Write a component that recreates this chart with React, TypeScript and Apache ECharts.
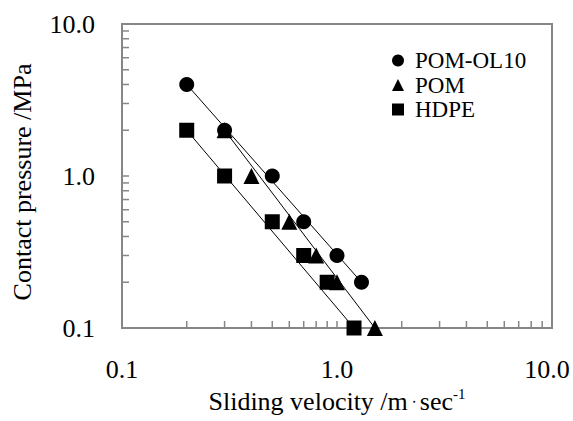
import React, { useEffect, useRef } from "react";
import * as echarts from "echarts";

const seriesNames = ["POM-OL10", "POM", "HDPE"];
const velocityOL10 = [0.2, 0.3, 0.5, 0.7, 1.0, 1.3];
const pressureOL10 = [4, 2, 1, 0.5, 0.3, 0.2];
const velocityPOM = [0.3, 0.4, 0.6, 0.8, 1.0, 1.5];
const pressurePOM = [2, 1, 0.5, 0.3, 0.2, 0.1];
const velocityHDPE = [0.2, 0.3, 0.5, 0.7, 0.9, 1.2];
const pressureHDPE = [2, 1, 0.5, 0.3, 0.2, 0.1];
// trend line end points
const fitOL10 = [[0.2, 4.0], [1.3, 0.2]];
const fitPOM = [[0.3, 2.0], [1.5, 0.1]];
const fitHDPE = [[0.2, 2.0], [1.2, 0.1]];
const tickLabels: Record<string, string> = { "0.1": "0.1", "1": "1.0", "10": "10.0" };
const minorTickValues = [0.2, 0.3, 0.4, 0.5, 0.6, 0.7, 0.8, 0.9, 2, 3, 4, 5, 6, 7, 8, 9];
const axisMin = 0.1;
const axisMax = 10;

const FONT = '"Liberation Serif", "Times New Roman", serif';
const AXIS_COLOR = "#868686";

function zip(xs: number[], ys: number[]) {
  return xs.map((x, i) => [x, ys[i]]);
}

export default function App() {
  const ref = useRef<HTMLDivElement>(null);
  useEffect(() => {
    const chart = echarts.init(ref.current!, null, { renderer: "svg" });
    const symbols = ["circle", "triangle", "rect"];
    const pts = [
      zip(velocityOL10, pressureOL10),
      zip(velocityPOM, pressurePOM),
      zip(velocityHDPE, pressureHDPE),
    ];
    const fits = [fitOL10, fitPOM, fitHDPE];
    const scatter = seriesNames.map((n, i) => ({
      name: n,
      type: "scatter",
      symbol: symbols[i],
      symbolSize: i === 1 ? 16 : 15,
      itemStyle: { color: "#000", opacity: 1 },
      data: pts[i],
      z: 5,
    }));
    const lines = fits.map((f, i) => ({
      name: seriesNames[i] + " fit",
      type: "line",
      data: f,
      showSymbol: false,
      symbol: "none",
      lineStyle: { color: "#000", width: 1 },
      z: 3,
    }));
    const minorX = {
      type: "custom",
      silent: true,
      clip: false,
      data: minorTickValues.map((v) => [v]),
      renderItem: (params: any, api: any) => {
        const p = api.coord([api.value(0), axisMin]);
        return {
          type: "line",
          shape: { x1: p[0], y1: p[1], x2: p[0], y2: p[1] - 7 },
          style: { stroke: AXIS_COLOR, lineWidth: 1.5 },
        };
      },
      z: 6,
    };
    const minorY = {
      type: "custom",
      silent: true,
      clip: false,
      data: minorTickValues.map((v) => [v]),
      renderItem: (params: any, api: any) => {
        const p = api.coord([axisMin, api.value(0)]);
        return {
          type: "line",
          shape: { x1: p[0], y1: p[1], x2: p[0] + 7, y2: p[1] },
          style: { stroke: AXIS_COLOR, lineWidth: 1.5 },
        };
      },
      z: 6,
    };
    const fmt = (v: number) => {
      const key = String(+v.toPrecision(6));
      return tickLabels[key] ?? "";
    };
    chart.setOption({
      animation: false,
      backgroundColor: "#fff",
      textStyle: { fontFamily: FONT },
      grid: {
        left: 122,
        right: 21,
        top: 24,
        bottom: 93,
        show: true,
        borderColor: AXIS_COLOR,
        borderWidth: 2,
        backgroundColor: "transparent",
      },
      legend: {
        data: seriesNames,
        orient: "vertical",
        left: 392,
        top: 49,
        padding: 0,
        itemWidth: 12,
        itemHeight: 12,
        itemGap: 1.5,
        itemStyle: { opacity: 1 },
        textStyle: {
          fontFamily: FONT,
          fontSize: 23,
          lineHeight: 21,
          color: "#000",
          padding: [0, 0, 0, 6],
        },
      },
      xAxis: {
        type: "log",
        logBase: 10,
        min: axisMin,
        max: axisMax,
        splitLine: { show: false },
        axisLine: { lineStyle: { color: AXIS_COLOR, width: 2 } },
        axisTick: { inside: true, length: 7, lineStyle: { color: AXIS_COLOR, width: 1.5 } },
        axisLabel: {
          margin: 28,
          fontFamily: FONT,
          fontSize: 26,
          color: "#000",
          formatter: (v: number) => {
            const s = fmt(v);
            return s === "10.0" ? "{r|" + s + "}" : s;
          },
          rich: { r: { fontFamily: FONT, fontSize: 26, color: "#000", padding: [0, 10, 0, 0] } },
        },
        name: "{t|Sliding velocity /m}{d|・}{t|sec}{s|-1}",
        nameLocation: "middle",
        nameGap: 55,
        nameTextStyle: {
          rich: {
            t: { fontFamily: FONT, fontSize: 26, color: "#000", lineHeight: 30 },
            d: { fontSize: 12, color: "#000", lineHeight: 30 },
            s: { fontFamily: FONT, fontSize: 15, color: "#000", verticalAlign: "top", lineHeight: 14 },
          },
        },
      },
      yAxis: {
        type: "log",
        logBase: 10,
        min: axisMin,
        max: axisMax,
        splitLine: { show: false },
        axisLine: { lineStyle: { color: AXIS_COLOR, width: 2 } },
        axisTick: { inside: true, length: 7, lineStyle: { color: AXIS_COLOR, width: 1.5 } },
        axisLabel: { margin: 27, fontFamily: FONT, fontSize: 26, color: "#000", formatter: fmt },
      },
      graphic: [
        {
          type: "text",
          x: 22,
          y: 182,
          rotation: Math.PI / 2,
          style: {
            text: "Contact pressure /MPa",
            fontFamily: FONT,
            fontSize: 26,
            fill: "#000",
            align: "center",
            verticalAlign: "middle",
          },
        },
      ],
      series: [...lines, ...scatter, minorX, minorY],
    });
    return () => chart.dispose();
  }, []);
  return (
    <div
      ref={ref}
      style={{ position: "fixed", left: 0, top: 0, width: 573, height: 421, background: "#fff" }}
    />
  );
}
